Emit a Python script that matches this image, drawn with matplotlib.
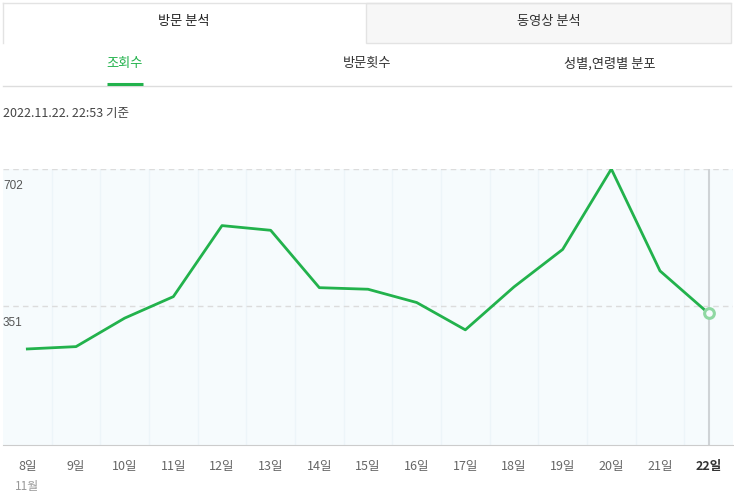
import matplotlib
matplotlib.use("Agg")
import matplotlib.pyplot as plt
import matplotlib.transforms as mtransforms
from matplotlib.patches import Rectangle
from matplotlib.lines import Line2D

plt.rcParams['font.family'] = ['Noto Sans CJK KR', 'DejaVu Sans']

# data: daily views, Nov 8 - Nov 22
days = [8, 9, 10, 11, 12, 13, 14, 15, 16, 17, 18, 19, 20, 21, 22]
views = [241, 247, 320, 375, 557, 545, 398, 394, 360, 290, 400, 496, 702, 441, 332]
y_ticks = [351, 702]
day_labels = [f"{d}일" for d in days]
main_tabs = ["방문 분석", "동영상 분석"]
sub_tabs = ["조회수", "방문횟수", "성별,연령별 분포"]
stamp = "2022.11.22. 22:53 기준"

W, H = 734, 501
GREEN = '#22b24c'

fig = plt.figure(figsize=(W / 100, H / 100), dpi=100)


def fx(x):
    return x / W


def fy(y):
    return 1 - y / H


# top tabs
fig.patches.append(Rectangle((fx(3), fy(43)), fx(363), 40 / H, transform=fig.transFigure,
                             facecolor='white', edgecolor='none'))
fig.patches.append(Rectangle((fx(366), fy(43)), fx(365), 40 / H, transform=fig.transFigure,
                             facecolor='#f7f7f7', edgecolor='#e3e3e3', lw=1))
fig.lines.append(Line2D([fx(3), fx(731)], [fy(3), fy(3)], transform=fig.transFigure,
                        color='#e3e3e3', lw=1))
fig.lines.append(Line2D([fx(3), fx(3)], [fy(3), fy(43)], transform=fig.transFigure,
                        color='#e3e3e3', lw=1))
fig.text(fx(184), fy(22), main_tabs[0], ha='center', va='center', fontsize=9.5, color='#222')
fig.text(fx(549), fy(22), main_tabs[1], ha='center', va='center', fontsize=9.5, color='#333')

# sub tabs
for x, t, c in zip([125, 367, 610], sub_tabs, [GREEN, '#333', '#333']):
    fig.text(fx(x), fy(64), t, ha='center', va='center', fontsize=9.5, color=c)
fig.lines.append(Line2D([fx(3), fx(731)], [fy(85.5), fy(85.5)], transform=fig.transFigure,
                        color='#dddddd', lw=1))
fig.lines.append(Line2D([fx(107), fx(143)], [fy(84), fy(84)], transform=fig.transFigure,
                        color=GREEN, lw=2.2, solid_capstyle='butt'))

fig.text(fx(3), fy(114), stamp, ha='left', va='center', fontsize=9, color='#444')

# chart
ax = fig.add_axes([fx(3), fy(445), 730 / W, 276 / H])
ax.set_facecolor('#f6fbfd')
ax.set_xlim(7.5, 22.5)
ax.set_ylim(-5, 702)

for d in days[:-1]:
    ax.axvline(d + 0.5, color='#edf5f9', lw=1, zorder=1)
for v in y_ticks:
    ax.axhline(v, color='#dcdcdc', lw=1, ls=(0, (4, 3)), zorder=2)
    off = mtransforms.offset_copy(ax.transData, fig=fig, x=0, y=-8, units='points')
    blend = mtransforms.blended_transform_factory(ax.transAxes, off)
    ax.text(0.0, v, str(v), transform=blend, ha='left', va='top', fontsize=8.5,
            color='#555', family=['Liberation Sans', 'DejaVu Sans'])

ax.axvline(days[-1], color='#cfd3d6', lw=1.5, zorder=2)
ax.plot(days, views, color=GREEN, lw=2, zorder=3)
ax.plot(days[-1], views[-1], 'o', ms=7, mfc='#f6fbfd', mec='#8fd8a2', mew=2.2, zorder=4)

for s in ['top', 'left', 'right']:
    ax.spines[s].set_visible(False)
ax.spines['bottom'].set_color('#cccccc')
ax.set_yticks([])
ax.set_xticks(days)
ax.set_xticklabels(day_labels, fontsize=9, color='#666')
ax.tick_params(axis='x', length=0, pad=11)
last = ax.get_xticklabels()[-1]
last.set_fontweight('bold')
last.set_color('#333')

off = mtransforms.offset_copy(ax.transAxes, fig=fig, x=0, y=-30, units='points')
blend = mtransforms.blended_transform_factory(ax.transData, off)
ax.text(days[0], 0, "11월", transform=blend, ha='center', va='center', fontsize=8.5, color='#999')

fig.savefig('out.png', dpi=100)
